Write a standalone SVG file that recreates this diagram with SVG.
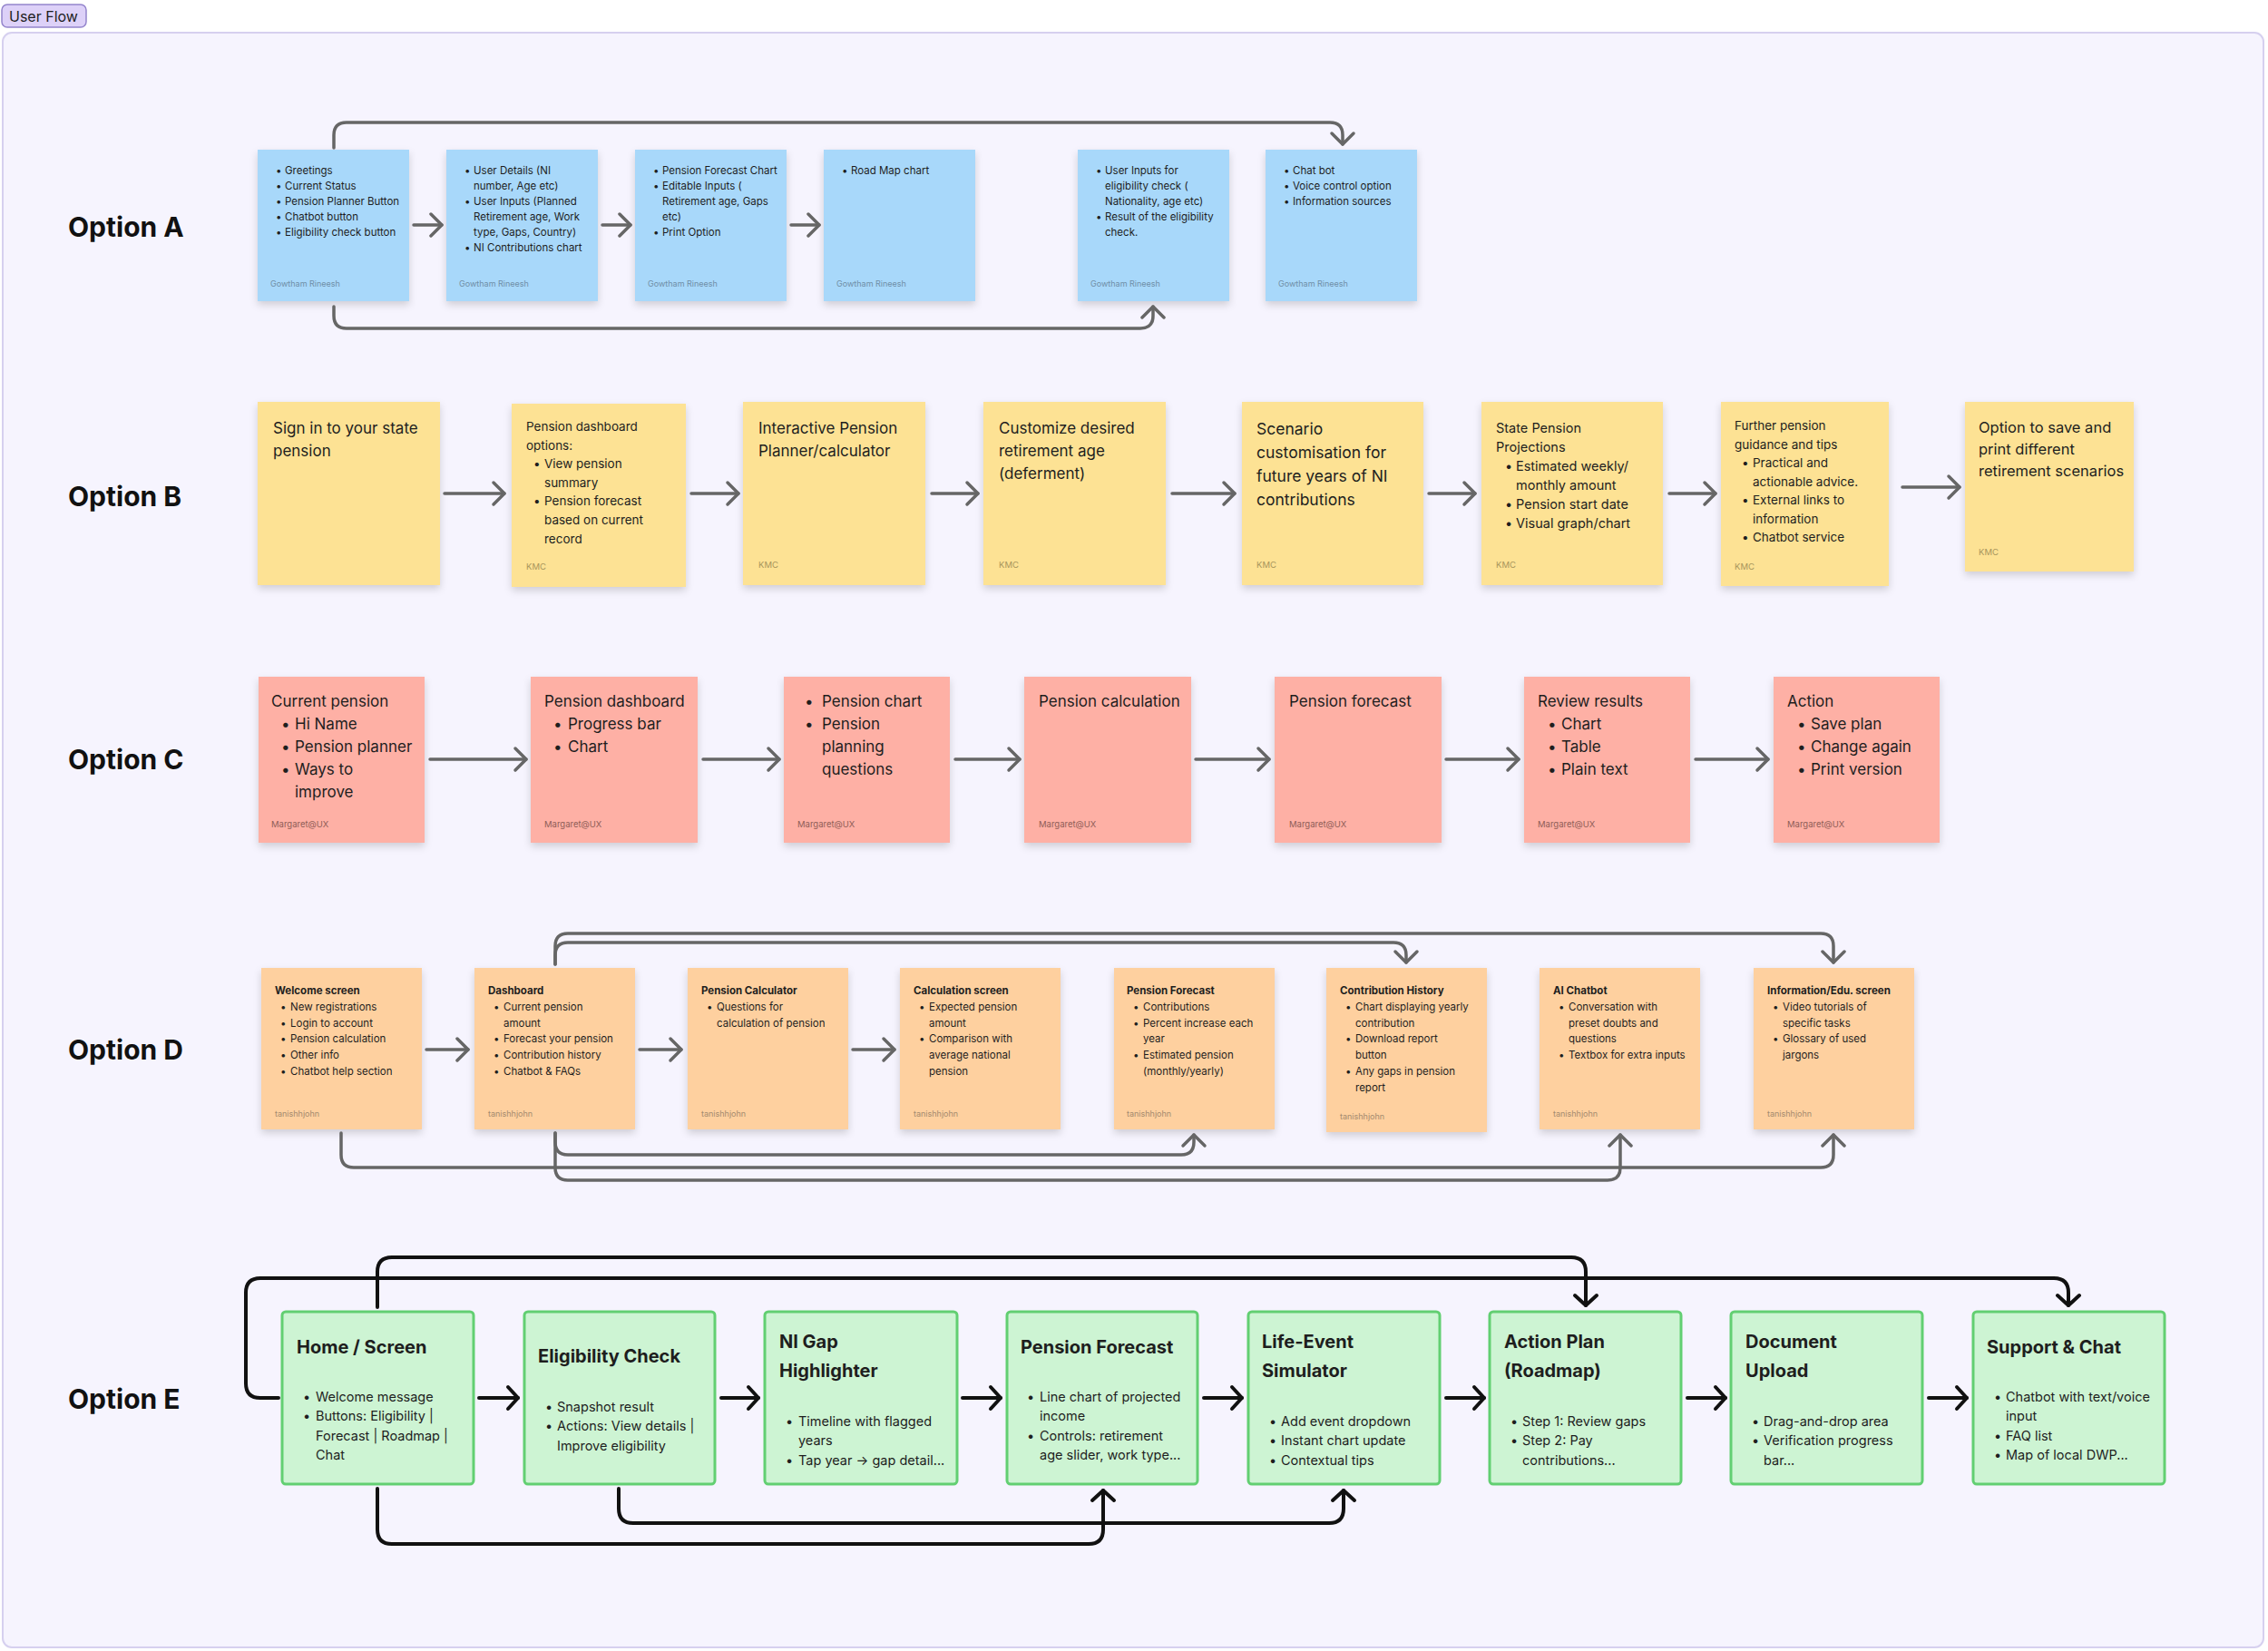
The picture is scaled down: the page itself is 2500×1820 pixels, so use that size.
<svg xmlns="http://www.w3.org/2000/svg" width="2500" height="1820" viewBox="0 0 2500 1820">
<defs>
<style>
text{font-family:Inter,"Liberation Sans",sans-serif;fill:#1e1e1e}
.lbl{font-size:30px;font-weight:700;fill:#111}
.ta{font-size:11.5px}
.aua{font-size:9px;fill:#6f8ea6}
.tb{font-size:17px}
.tbs{font-size:13.5px}
.tbm{font-size:14.5px}
.aub{font-size:9.5px;fill:#a8955c}
.tc{font-size:17px}
.auc{font-size:9.5px;fill:#8e5d57}
.td{font-size:11.5px}
.tdb{font-size:11.5px;font-weight:700}
.aud{font-size:9px;fill:#a38a6e}
.te{font-size:14.5px}
.teb{font-size:20px;font-weight:700}
.nA{fill:#a8d8fa}
.nB{fill:#fde294}
.nC{fill:#feb0a5}
.nD{fill:#fed09f}
.nE{fill:#cdf4d3;stroke:#62cf72;stroke-width:3}
.con{fill:none;stroke:#666;stroke-width:3.5;stroke-linecap:round;stroke-linejoin:round}
.conE{fill:none;stroke:#111;stroke-width:4;stroke-linecap:round;stroke-linejoin:round}
</style>
<filter id="sh" x="-10%" y="-10%" width="120%" height="130%">
<feDropShadow dx="0" dy="4" stdDeviation="4" flood-color="#000" flood-opacity="0.16"/>
</filter>
<marker id="ah" viewBox="-16 -16 20 32" refX="0" refY="0" markerWidth="20" markerHeight="32" markerUnits="userSpaceOnUse" orient="auto">
<path d="M-12,-12 L0,0 L-12,12" fill="none" stroke="#666" stroke-width="3.5" stroke-linecap="round" stroke-linejoin="round"/>
</marker>
<marker id="ahE" viewBox="-16 -16 20 32" refX="0" refY="0" markerWidth="20" markerHeight="32" markerUnits="userSpaceOnUse" orient="auto">
<path d="M-11,-12 L0,0 L-11,12" fill="none" stroke="#111" stroke-width="4" stroke-linecap="round" stroke-linejoin="round"/>
</marker>
</defs>

<rect x="0" y="0" width="2500" height="1820" fill="#ffffff"/>
<g id="frame">
<rect x="3" y="36" width="2492" height="1780" rx="10" fill="#f6f4fe" stroke="#d6d0ef" stroke-width="2"/>
<rect x="2" y="5" width="93" height="25" rx="6" fill="#ddd1f8" stroke="#9485cc" stroke-width="1.5"/>
<text x="10" y="24" style="font-size:16px">User Flow</text>
</g>

<g id="labels">
<text class="lbl" x="75" y="261">Option A</text>
<text class="lbl" x="75" y="558">Option B</text>
<text class="lbl" x="75" y="848">Option C</text>
<text class="lbl" x="75" y="1168">Option D</text>
<text class="lbl" x="75" y="1553">Option E</text>
</g>

<!-- Option A -->
<g id="A1">
<rect class="nA" x="284" y="165" width="167" height="167" filter="url(#sh)"/>
<text class="ta" x="304" y="192">•</text><text class="ta" x="314" y="192">Greetings</text>
<text class="ta" x="304" y="209">•</text><text class="ta" x="314" y="209">Current Status</text>
<text class="ta" x="304" y="226">•</text><text class="ta" x="314" y="226">Pension Planner Button</text>
<text class="ta" x="304" y="243">•</text><text class="ta" x="314" y="243">Chatbot button</text>
<text class="ta" x="304" y="260">•</text><text class="ta" x="314" y="260">Eligibility check button</text>
<text class="aua" x="298" y="316">Gowtham Rineesh</text>
</g>
<g id="A2">
<rect class="nA" x="492" y="165" width="167" height="167" filter="url(#sh)"/>
<text class="ta" x="512" y="192">•</text><text class="ta" x="522" y="192">User Details (NI</text>
<text class="ta" x="522" y="209">number, Age etc)</text>
<text class="ta" x="512" y="226">•</text><text class="ta" x="522" y="226">User Inputs (Planned</text>
<text class="ta" x="522" y="243">Retirement age, Work</text>
<text class="ta" x="522" y="260">type, Gaps, Country)</text>
<text class="ta" x="512" y="277">•</text><text class="ta" x="522" y="277">NI Contributions chart</text>
<text class="aua" x="506" y="316">Gowtham Rineesh</text>
</g>
<g id="A3">
<rect class="nA" x="700" y="165" width="167" height="167" filter="url(#sh)"/>
<text class="ta" x="720" y="192">•</text><text class="ta" x="730" y="192">Pension Forecast Chart</text>
<text class="ta" x="720" y="209">•</text><text class="ta" x="730" y="209">Editable Inputs (</text>
<text class="ta" x="730" y="226">Retirement age, Gaps</text>
<text class="ta" x="730" y="243">etc)</text>
<text class="ta" x="720" y="260">•</text><text class="ta" x="730" y="260">Print Option</text>
<text class="aua" x="714" y="316">Gowtham Rineesh</text>
</g>
<g id="A4">
<rect class="nA" x="908" y="165" width="167" height="167" filter="url(#sh)"/>
<text class="ta" x="928" y="192">•</text><text class="ta" x="938" y="192">Road Map chart</text>
<text class="aua" x="922" y="316">Gowtham Rineesh</text>
</g>
<g id="A5">
<rect class="nA" x="1188" y="165" width="167" height="167" filter="url(#sh)"/>
<text class="ta" x="1208" y="192">•</text><text class="ta" x="1218" y="192">User Inputs for</text>
<text class="ta" x="1218" y="209">eligibility check (</text>
<text class="ta" x="1218" y="226">Nationality, age etc)</text>
<text class="ta" x="1208" y="243">•</text><text class="ta" x="1218" y="243">Result of the eligibility</text>
<text class="ta" x="1218" y="260">check.</text>
<text class="aua" x="1202" y="316">Gowtham Rineesh</text>
</g>
<g id="A6">
<rect class="nA" x="1395" y="165" width="167" height="167" filter="url(#sh)"/>
<text class="ta" x="1415" y="192">•</text><text class="ta" x="1425" y="192">Chat bot</text>
<text class="ta" x="1415" y="209">•</text><text class="ta" x="1425" y="209">Voice control option</text>
<text class="ta" x="1415" y="226">•</text><text class="ta" x="1425" y="226">Information sources</text>
<text class="aua" x="1409" y="316">Gowtham Rineesh</text>
</g>

<!-- Option B -->
<g id="B1">
<rect class="nB" x="284" y="443" width="201" height="202" filter="url(#sh)"/>
<text class="tb" x="301" y="478">Sign in to your state</text>
<text class="tb" x="301" y="503">pension</text>
</g>
<g id="B2">
<rect class="nB" x="564" y="445" width="192" height="202" filter="url(#sh)"/>
<text class="tbs" x="580" y="475">Pension dashboard</text>
<text class="tbs" x="580" y="496">options:</text>
<text class="tbs" x="588" y="516">•</text><text class="tbs" x="600" y="516">View pension</text>
<text class="tbs" x="600" y="537">summary</text>
<text class="tbs" x="588" y="557">•</text><text class="tbs" x="600" y="557">Pension forecast</text>
<text class="tbs" x="600" y="578">based on current</text>
<text class="tbs" x="600" y="599">record</text>
<text class="aub" x="580" y="628">KMC</text>
</g>
<g id="B3">
<rect class="nB" x="819" y="443" width="201" height="202" filter="url(#sh)"/>
<text class="tb" x="836" y="478">Interactive Pension</text>
<text class="tb" x="836" y="503">Planner/calculator</text>
<text class="aub" x="836" y="626">KMC</text>
</g>
<g id="B4">
<rect class="nB" x="1084" y="443" width="201" height="202" filter="url(#sh)"/>
<text class="tb" x="1101" y="478">Customize desired</text>
<text class="tb" x="1101" y="503">retirement age</text>
<text class="tb" x="1101" y="528">(deferment)</text>
<text class="aub" x="1101" y="626">KMC</text>
</g>
<g id="B5">
<rect class="nB" x="1369" y="443" width="200" height="202" filter="url(#sh)"/>
<text class="tb" x="1385" y="479" style="font-size:17.5px">Scenario</text>
<text class="tb" x="1385" y="505" style="font-size:17.5px">customisation for</text>
<text class="tb" x="1385" y="531" style="font-size:17.5px">future years of NI</text>
<text class="tb" x="1385" y="557" style="font-size:17.5px">contributions</text>
<text class="aub" x="1385" y="626">KMC</text>
</g>
<g id="B6">
<rect class="nB" x="1633" y="443" width="200" height="202" filter="url(#sh)"/>
<text class="tbm" x="1649" y="477">State Pension</text>
<text class="tbm" x="1649" y="498">Projections</text>
<text class="tbm" x="1659" y="519">•</text><text class="tbm" x="1671" y="519">Estimated weekly/</text>
<text class="tbm" x="1671" y="540">monthly amount</text>
<text class="tbm" x="1659" y="561">•</text><text class="tbm" x="1671" y="561">Pension start date</text>
<text class="tbm" x="1659" y="582">•</text><text class="tbm" x="1671" y="582">Visual graph/chart</text>
<text class="aub" x="1649" y="626">KMC</text>
</g>
<g id="B7">
<rect class="nB" x="1897" y="443" width="185" height="203" filter="url(#sh)"/>
<text class="tbs" x="1912" y="474">Further pension</text>
<text class="tbs" x="1912" y="495">guidance and tips</text>
<text class="tbs" x="1920" y="515">•</text><text class="tbs" x="1932" y="515">Practical and</text>
<text class="tbs" x="1932" y="536">actionable advice.</text>
<text class="tbs" x="1920" y="556">•</text><text class="tbs" x="1932" y="556">External links to</text>
<text class="tbs" x="1932" y="577">information</text>
<text class="tbs" x="1920" y="597">•</text><text class="tbs" x="1932" y="597">Chatbot service</text>
<text class="aub" x="1912" y="628">KMC</text>
</g>
<g id="B8">
<rect class="nB" x="2166" y="443" width="186" height="187" filter="url(#sh)"/>
<text class="tb" x="2181" y="477" style="font-size:16.5px">Option to save and</text>
<text class="tb" x="2181" y="501" style="font-size:16.5px">print different</text>
<text class="tb" x="2181" y="525" style="font-size:16.5px">retirement scenarios</text>
<text class="aub" x="2181" y="612">KMC</text>
</g>

<!-- Option C -->
<g id="C1">
<rect class="nC" x="285" y="746" width="183" height="183" filter="url(#sh)"/>
<text class="tc" x="299" y="779">Current pension</text>
<text class="tc" x="310" y="804">•</text><text class="tc" x="325" y="804">Hi Name</text>
<text class="tc" x="310" y="829">•</text><text class="tc" x="325" y="829">Pension planner</text>
<text class="tc" x="310" y="854">•</text><text class="tc" x="325" y="854">Ways to</text>
<text class="tc" x="325" y="879">improve</text>
<text class="auc" x="299" y="912">Margaret@UX</text>
</g>
<g id="C2">
<rect class="nC" x="585" y="746" width="184" height="183" filter="url(#sh)"/>
<text class="tc" x="600" y="779">Pension dashboard</text>
<text class="tc" x="610" y="804">•</text><text class="tc" x="626" y="804">Progress bar</text>
<text class="tc" x="610" y="829">•</text><text class="tc" x="626" y="829">Chart</text>
<text class="auc" x="600" y="912">Margaret@UX</text>
</g>
<g id="C3">
<rect class="nC" x="864" y="746" width="183" height="183" filter="url(#sh)"/>
<text class="tc" x="887" y="779">•</text><text class="tc" x="906" y="779">Pension chart</text>
<text class="tc" x="887" y="804">•</text><text class="tc" x="906" y="804">Pension</text>
<text class="tc" x="906" y="829">planning</text>
<text class="tc" x="906" y="854">questions</text>
<text class="auc" x="879" y="912">Margaret@UX</text>
</g>
<g id="C4">
<rect class="nC" x="1129" y="746" width="184" height="183" filter="url(#sh)"/>
<text class="tc" x="1145" y="779">Pension calculation</text>
<text class="auc" x="1145" y="912">Margaret@UX</text>
</g>
<g id="C5">
<rect class="nC" x="1405" y="746" width="184" height="183" filter="url(#sh)"/>
<text class="tc" x="1421" y="779">Pension forecast</text>
<text class="auc" x="1421" y="912">Margaret@UX</text>
</g>
<g id="C6">
<rect class="nC" x="1680" y="746" width="183" height="183" filter="url(#sh)"/>
<text class="tc" x="1695" y="779">Review results</text>
<text class="tc" x="1706" y="804">•</text><text class="tc" x="1721" y="804">Chart</text>
<text class="tc" x="1706" y="829">•</text><text class="tc" x="1721" y="829">Table</text>
<text class="tc" x="1706" y="854">•</text><text class="tc" x="1721" y="854">Plain text</text>
<text class="auc" x="1695" y="912">Margaret@UX</text>
</g>
<g id="C7">
<rect class="nC" x="1955" y="746" width="183" height="183" filter="url(#sh)"/>
<text class="tc" x="1970" y="779">Action</text>
<text class="tc" x="1981" y="804">•</text><text class="tc" x="1996" y="804">Save plan</text>
<text class="tc" x="1981" y="829">•</text><text class="tc" x="1996" y="829">Change again</text>
<text class="tc" x="1981" y="854">•</text><text class="tc" x="1996" y="854">Print version</text>
<text class="auc" x="1970" y="912">Margaret@UX</text>
</g>

<!-- Option D -->
<g id="D1">
<rect class="nD" x="288" y="1067" width="177" height="178" filter="url(#sh)"/>
<text class="tdb" x="303" y="1096">Welcome screen</text>
<text class="td" x="309" y="1114">•</text><text class="td" x="320" y="1114">New registrations</text>
<text class="td" x="309" y="1132">•</text><text class="td" x="320" y="1132">Login to account</text>
<text class="td" x="309" y="1149">•</text><text class="td" x="320" y="1149">Pension calculation</text>
<text class="td" x="309" y="1167">•</text><text class="td" x="320" y="1167">Other info</text>
<text class="td" x="309" y="1185">•</text><text class="td" x="320" y="1185">Chatbot help section</text>
<text class="aud" x="303" y="1231">tanishhjohn</text>
</g>
<g id="D2">
<rect class="nD" x="523" y="1067" width="177" height="178" filter="url(#sh)"/>
<text class="tdb" x="538" y="1096">Dashboard</text>
<text class="td" x="544" y="1114">•</text><text class="td" x="555" y="1114">Current pension</text>
<text class="td" x="555" y="1132">amount</text>
<text class="td" x="544" y="1149">•</text><text class="td" x="555" y="1149">Forecast your pension</text>
<text class="td" x="544" y="1167">•</text><text class="td" x="555" y="1167">Contribution history</text>
<text class="td" x="544" y="1185">•</text><text class="td" x="555" y="1185">Chatbot &amp; FAQs</text>
<text class="aud" x="538" y="1231">tanishhjohn</text>
</g>
<g id="D3">
<rect class="nD" x="758" y="1067" width="177" height="178" filter="url(#sh)"/>
<text class="tdb" x="773" y="1096">Pension Calculator</text>
<text class="td" x="779" y="1114">•</text><text class="td" x="790" y="1114">Questions for</text>
<text class="td" x="790" y="1132">calculation of pension</text>
<text class="aud" x="773" y="1231">tanishhjohn</text>
</g>
<g id="D4">
<rect class="nD" x="992" y="1067" width="177" height="178" filter="url(#sh)"/>
<text class="tdb" x="1007" y="1096">Calculation screen</text>
<text class="td" x="1013" y="1114">•</text><text class="td" x="1024" y="1114">Expected pension</text>
<text class="td" x="1024" y="1132">amount</text>
<text class="td" x="1013" y="1149">•</text><text class="td" x="1024" y="1149">Comparison with</text>
<text class="td" x="1024" y="1167">average national</text>
<text class="td" x="1024" y="1185">pension</text>
<text class="aud" x="1007" y="1231">tanishhjohn</text>
</g>
<g id="D5">
<rect class="nD" x="1228" y="1067" width="177" height="178" filter="url(#sh)"/>
<text class="tdb" x="1242" y="1096">Pension Forecast</text>
<text class="td" x="1249" y="1114">•</text><text class="td" x="1260" y="1114">Contributions</text>
<text class="td" x="1249" y="1132">•</text><text class="td" x="1260" y="1132">Percent increase each</text>
<text class="td" x="1260" y="1149">year</text>
<text class="td" x="1249" y="1167">•</text><text class="td" x="1260" y="1167">Estimated pension</text>
<text class="td" x="1260" y="1185">(monthly/yearly)</text>
<text class="aud" x="1242" y="1231">tanishhjohn</text>
</g>
<g id="D6">
<rect class="nD" x="1462" y="1067" width="177" height="181" filter="url(#sh)"/>
<text class="tdb" x="1477" y="1096">Contribution History</text>
<text class="td" x="1483" y="1114">•</text><text class="td" x="1494" y="1114">Chart displaying yearly</text>
<text class="td" x="1494" y="1132">contribution</text>
<text class="td" x="1483" y="1149">•</text><text class="td" x="1494" y="1149">Download report</text>
<text class="td" x="1494" y="1167">button</text>
<text class="td" x="1483" y="1185">•</text><text class="td" x="1494" y="1185">Any gaps in pension</text>
<text class="td" x="1494" y="1203">report</text>
<text class="aud" x="1477" y="1234">tanishhjohn</text>
</g>
<g id="D7">
<rect class="nD" x="1697" y="1067" width="177" height="178" filter="url(#sh)"/>
<text class="tdb" x="1712" y="1096">AI Chatbot</text>
<text class="td" x="1718" y="1114">•</text><text class="td" x="1729" y="1114">Conversation with</text>
<text class="td" x="1729" y="1132">preset doubts and</text>
<text class="td" x="1729" y="1149">questions</text>
<text class="td" x="1718" y="1167">•</text><text class="td" x="1729" y="1167">Textbox for extra inputs</text>
<text class="aud" x="1712" y="1231">tanishhjohn</text>
</g>
<g id="D8">
<rect class="nD" x="1933" y="1067" width="177" height="178" filter="url(#sh)"/>
<text class="tdb" x="1948" y="1096">Information/Edu. screen</text>
<text class="td" x="1954" y="1114">•</text><text class="td" x="1965" y="1114">Video tutorials of</text>
<text class="td" x="1965" y="1132">specific tasks</text>
<text class="td" x="1954" y="1149">•</text><text class="td" x="1965" y="1149">Glossary of used</text>
<text class="td" x="1965" y="1167">jargons</text>
<text class="aud" x="1948" y="1231">tanishhjohn</text>
</g>

<!-- Option E -->
<g id="E1">
<rect class="nE" x="311" y="1446" width="211" height="190" rx="4"/>
<text class="teb" x="327" y="1492">Home / Screen</text>
<text class="te" x="334" y="1545">•</text><text class="te" x="348" y="1545">Welcome message</text>
<text class="te" x="334" y="1566">•</text><text class="te" x="348" y="1566">Buttons: Eligibility |</text>
<text class="te" x="348" y="1588">Forecast | Roadmap |</text>
<text class="te" x="348" y="1609">Chat</text>
</g>
<g id="E2">
<rect class="nE" x="578" y="1446" width="210" height="190" rx="4"/>
<text class="teb" x="593" y="1502">Eligibility Check</text>
<text class="te" x="601" y="1556">•</text><text class="te" x="614" y="1556">Snapshot result</text>
<text class="te" x="601" y="1577">•</text><text class="te" x="614" y="1577">Actions: View details |</text>
<text class="te" x="614" y="1599">Improve eligibility</text>
</g>
<g id="E3">
<rect class="nE" x="843" y="1446" width="212" height="190" rx="4"/>
<text class="teb" x="859" y="1486">NI Gap</text>
<text class="teb" x="859" y="1518">Highlighter</text>
<text class="te" x="866" y="1572">•</text><text class="te" x="880" y="1572">Timeline with flagged</text>
<text class="te" x="880" y="1593">years</text>
<text class="te" x="866" y="1615">•</text><text class="te" x="880" y="1615">Tap year → gap detail...</text>
</g>
<g id="E4">
<rect class="nE" x="1110" y="1446" width="210" height="190" rx="4"/>
<text class="teb" x="1125" y="1492">Pension Forecast</text>
<text class="te" x="1132" y="1545">•</text><text class="te" x="1146" y="1545">Line chart of projected</text>
<text class="te" x="1146" y="1566">income</text>
<text class="te" x="1132" y="1588">•</text><text class="te" x="1146" y="1588">Controls: retirement</text>
<text class="te" x="1146" y="1609">age slider, work type...</text>
</g>
<g id="E5">
<rect class="nE" x="1376" y="1446" width="211" height="190" rx="4"/>
<text class="teb" x="1391" y="1486">Life-Event</text>
<text class="teb" x="1391" y="1518">Simulator</text>
<text class="te" x="1399" y="1572">•</text><text class="te" x="1412" y="1572">Add event dropdown</text>
<text class="te" x="1399" y="1593">•</text><text class="te" x="1412" y="1593">Instant chart update</text>
<text class="te" x="1399" y="1615">•</text><text class="te" x="1412" y="1615">Contextual tips</text>
</g>
<g id="E6">
<rect class="nE" x="1642" y="1446" width="211" height="190" rx="4"/>
<text class="teb" x="1658" y="1486">Action Plan</text>
<text class="teb" x="1658" y="1518">(Roadmap)</text>
<text class="te" x="1665" y="1572">•</text><text class="te" x="1678" y="1572">Step 1: Review gaps</text>
<text class="te" x="1665" y="1593">•</text><text class="te" x="1678" y="1593">Step 2: Pay</text>
<text class="te" x="1678" y="1615">contributions...</text>
</g>
<g id="E7">
<rect class="nE" x="1908" y="1446" width="211" height="190" rx="4"/>
<text class="teb" x="1924" y="1486">Document</text>
<text class="teb" x="1924" y="1518">Upload</text>
<text class="te" x="1931" y="1572">•</text><text class="te" x="1944" y="1572">Drag-and-drop area</text>
<text class="te" x="1931" y="1593">•</text><text class="te" x="1944" y="1593">Verification progress</text>
<text class="te" x="1944" y="1615">bar...</text>
</g>
<g id="E8">
<rect class="nE" x="2175" y="1446" width="211" height="190" rx="4"/>
<text class="teb" x="2190" y="1492">Support &amp; Chat</text>
<text class="te" x="2198" y="1545">•</text><text class="te" x="2211" y="1545">Chatbot with text/voice</text>
<text class="te" x="2211" y="1566">input</text>
<text class="te" x="2198" y="1588">•</text><text class="te" x="2211" y="1588">FAQ list</text>
<text class="te" x="2198" y="1609">•</text><text class="te" x="2211" y="1609">Map of local DWP...</text>
</g>

<g id="connectors">
<!-- A -->
<path class="con" marker-end="url(#ah)" d="M456,248 H487"/>
<path class="con" marker-end="url(#ah)" d="M664,248 H695"/>
<path class="con" marker-end="url(#ah)" d="M872,248 H903"/>
<path class="con" marker-end="url(#ah)" d="M368,163 V149 Q368,135 382,135 H1466 Q1480,135 1480,149 V159"/>
<path class="con" marker-end="url(#ah)" d="M368,338 V348 Q368,362 382,362 H1257 Q1271,362 1271,348 V338"/>
<!-- B -->
<path class="con" marker-end="url(#ah)" d="M490,544 H556"/>
<path class="con" marker-end="url(#ah)" d="M762,544 H814"/>
<path class="con" marker-end="url(#ah)" d="M1027,544 H1078"/>
<path class="con" marker-end="url(#ah)" d="M1292,544 H1361"/>
<path class="con" marker-end="url(#ah)" d="M1575,544 H1626"/>
<path class="con" marker-end="url(#ah)" d="M1840,544 H1891"/>
<path class="con" marker-end="url(#ah)" d="M2097,537 H2160"/>
<!-- C -->
<path class="con" marker-end="url(#ah)" d="M474,837 H580"/>
<path class="con" marker-end="url(#ah)" d="M775,837 H859"/>
<path class="con" marker-end="url(#ah)" d="M1053,837 H1124"/>
<path class="con" marker-end="url(#ah)" d="M1318,837 H1399"/>
<path class="con" marker-end="url(#ah)" d="M1594,837 H1674"/>
<path class="con" marker-end="url(#ah)" d="M1869,837 H1949"/>
<!-- D -->
<path class="con" marker-end="url(#ah)" d="M470,1157 H516"/>
<path class="con" marker-end="url(#ah)" d="M705,1157 H751"/>
<path class="con" marker-end="url(#ah)" d="M940,1157 H986"/>
<path class="con" marker-end="url(#ah)" d="M612,1063 V1043 Q612,1029 626,1029 H2007 Q2021,1029 2021,1043 V1061"/>
<path class="con" marker-end="url(#ah)" d="M612,1063 V1053 Q612,1039 626,1039 H1536 Q1550,1039 1550,1053 V1061"/>
<path class="con" marker-end="url(#ah)" d="M376,1249 V1273 Q376,1287 390,1287 H2007 Q2021,1287 2021,1273 V1251"/>
<path class="con" marker-end="url(#ah)" d="M612,1249 V1259 Q612,1273 626,1273 H1302 Q1316,1273 1316,1259 V1251"/>
<path class="con" marker-end="url(#ah)" d="M612,1249 V1287 Q612,1301 626,1301 H1772 Q1786,1301 1786,1287 V1251"/>
<!-- E -->
<path class="conE" marker-end="url(#ahE)" d="M528,1541 H571"/>
<path class="conE" marker-end="url(#ahE)" d="M795,1541 H836"/>
<path class="conE" marker-end="url(#ahE)" d="M1061,1541 H1103"/>
<path class="conE" marker-end="url(#ahE)" d="M1327,1541 H1369"/>
<path class="conE" marker-end="url(#ahE)" d="M1594,1541 H1636"/>
<path class="conE" marker-end="url(#ahE)" d="M1860,1541 H1902"/>
<path class="conE" marker-end="url(#ahE)" d="M2126,1541 H2168"/>
<path class="conE" marker-end="url(#ahE)" d="M307,1541 H287 Q271,1541 271,1525 V1425 Q271,1409 287,1409 H2264 Q2280,1409 2280,1425 V1439"/>
<path class="conE" marker-end="url(#ahE)" d="M416,1441 V1402 Q416,1386 432,1386 H1732 Q1748,1386 1748,1402 V1439"/>
<path class="conE" marker-end="url(#ahE)" d="M416,1641 V1686 Q416,1702 432,1702 H1200 Q1216,1702 1216,1686 V1643"/>
<path class="conE" marker-end="url(#ahE)" d="M682,1641 V1663 Q682,1679 698,1679 H1465 Q1481,1679 1481,1663 V1643"/>
</g>
</svg>
